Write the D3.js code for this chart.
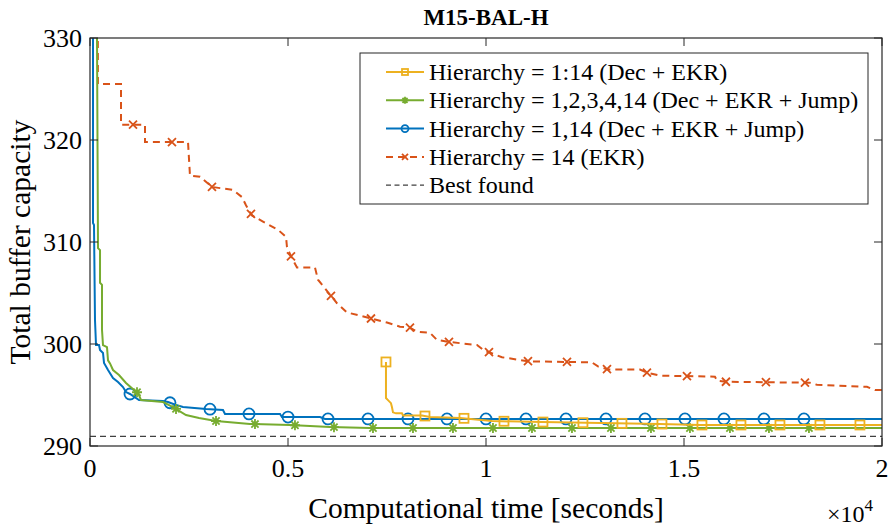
<!DOCTYPE html>
<html lang="en">
<head>
<meta charset="UTF-8">
<title>M15-BAL-H</title>
<script src="https://d3js.org/d3.v7.min.js"></script>
<style>
    body { margin: 0; background: #fff; }
</style>
</head>
<body>
<svg id="canvas" width="893" height="527"></svg>
<script>
// ---- data (time in seconds, total buffer capacity) ----
const decEkr = [[7474, 298.24], [7474, 294.7], [7525, 294.5], [7600, 294.2], [7626, 293.8], [7651, 293.3],
    [7727, 293.2], [7878, 293.2], [7903, 293.0], [8383, 293.0], [8585, 292.84], [9343, 292.75],
    [10151, 292.45], [11413, 292.35], [14393, 292.16], [15403, 292.06], [20000, 292.06]];
const decEkrMarks = [7474, 8459, 9444, 10454, 11438, 12448, 13433, 14443, 15453, 16438, 17423, 18433, 19443];

const decEkrJump4 = [[170, 345], [177, 330], [202, 309.4], [253, 309.2], [253, 306.0], [303, 305.8], [303, 301.4],
    [328, 299.9], [429, 299.7], [455, 298.4], [505, 298.1], [581, 297.45], [732, 296.96], [909, 296.18],
    [1111, 295.49], [1212, 295.2], [1288, 294.51], [1843, 294.31], [2096, 293.82], [2424, 293.04],
    [2752, 292.75], [3182, 292.45], [4040, 292.16], [5050, 292.06], [6060, 291.86], [7070, 291.76], [20000, 291.76]];
const decEkrJump4Marks = [1187, 2172, 3182, 4166, 5176, 6161, 7146, 8156, 9166, 10176, 11161, 12171,
    13155, 14166, 15150, 16160, 17145, 18155];

const decEkrJump = [[60, 345], [76, 330], [76, 311.86], [101, 311.67], [126, 302.35], [152, 299.9], [227, 299.9],
    [253, 299.41], [328, 299.12], [354, 298.14], [455, 297.45], [581, 296.67], [707, 296.27], [833, 295.78],
    [909, 295.29], [1010, 295.1], [1237, 294.51], [1843, 294.41], [1970, 294.31], [2172, 294.02],
    [2348, 293.82], [2929, 293.63], [3358, 293.53], [3409, 293.14], [4798, 293.14], [4848, 292.84],
    [5808, 292.84], [5934, 292.65], [20000, 292.65]];
const decEkrJumpMarks = [1010, 2020, 3030, 4015, 5000, 6010, 7020, 8030, 9015, 10000, 11010, 12020,
    13030, 14015, 15025, 16009, 17019, 18029];

const ekrOnly = [[190, 345], [200, 325.5], [783, 325.5], [783, 321.5], [1389, 321.5], [1389, 319.8],
    [2475, 319.8], [2525, 316.5], [2778, 316.4], [3080, 315.4], [3610, 315.1], [3838, 314.4], [3939, 313.6],
    [4090, 312.6], [4368, 312.0], [4747, 311.2], [4950, 310.5], [4974, 309.5], [5075, 308.6], [5227, 307.5],
    [5681, 307.5], [5757, 306.3], [6110, 304.6], [6237, 304.0], [6489, 303.1], [7095, 302.5], [7499, 302.1],
    [7828, 301.7], [8080, 301.6], [8257, 301.2], [8585, 301.1], [8762, 300.4], [9065, 300.2], [9772, 299.9],
    [9974, 299.3], [10075, 299.2], [10403, 298.7], [11085, 298.3], [12676, 298.2], [12827, 297.8],
    [13080, 297.5], [13888, 297.5], [14064, 297.2], [14393, 296.9], [15781, 296.8], [15832, 296.4],
    [16059, 296.3], [18180, 296.2], [18357, 296.0], [19619, 295.8], [19821, 295.5], [20000, 295.5]];
const ekrOnlyMarks = [1086, 2070, 3080, 4065, 5075, 6085, 7095, 8080, 9065, 10075, 11060, 12045,
    13055, 14064, 15075, 16059, 17069, 18054];

const bestFound = 290.95;

const legendLabels = ["Hierarchy = 1:14 (Dec + EKR)", "Hierarchy = 1,2,3,4,14 (Dec + EKR + Jump)",
    "Hierarchy = 1,14 (Dec + EKR + Jump)", "Hierarchy = 14 (EKR)", "Best found"];
const xTicks = [0, 5000, 10000, 15000, 20000];
const yTicks = [290, 300, 310, 320, 330];

// ---- layout ----
const FONT = "Liberation Serif";
const svg = d3.select("#canvas").style("font-family", FONT);
const box = {left: 90, right: 882, top: 38, bottom: 446};
const x = d3.scaleLinear().domain([0, 20000]).range([box.left, box.right]);
const y = d3.scaleLinear().domain([290, 330]).range([box.bottom, box.top]);
const axisColor = "#262626";

function txt(parent, size) {
    return parent.append("text").style("font-family", FONT).attr("font-size", size).attr("fill", "#000");
}

svg.append("defs").append("clipPath").attr("id", "plotClip")
    .append("rect").attr("x", box.left).attr("y", box.top)
    .attr("width", box.right - box.left).attr("height", box.bottom - box.top);

// value of a polyline at time t (for markers), first point wins on vertical drops
function valueAt(series, t) {
    const i = series.findIndex(d => d[0] >= t);
    if (i === -1) return series[series.length - 1][1];
    if (series[i][0] === t || i === 0) return series[i][1];
    const a = series[i - 1], b = series[i];
    return a[1] + (b[1] - a[1]) * (t - a[0]) / (b[0] - a[0]);
}

const line = d3.line().x(d => x(d[0])).y(d => y(d[1]));

const series = [
    {data: decEkr, marks: decEkrMarks, color: "#EDB120", marker: "square", dash: null},
    {data: decEkrJump4, marks: decEkrJump4Marks, color: "#77AC30", marker: "star", dash: null},
    {data: decEkrJump, marks: decEkrJumpMarks, color: "#0072BD", marker: "circle", dash: null},
    {data: ekrOnly, marks: ekrOnlyMarks, color: "#D95319", marker: "cross", dash: "7,5"}
];

function drawMarker(g, type, cx, cy, s, color) {
    if (type === "square") {
        g.append("rect").attr("x", cx - s).attr("y", cy - s).attr("width", 2 * s).attr("height", 2 * s)
            .attr("fill", "none").attr("stroke", color).attr("stroke-width", 1.8);
    } else if (type === "circle") {
        g.append("circle").attr("cx", cx).attr("cy", cy).attr("r", s)
            .attr("fill", "none").attr("stroke", color).attr("stroke-width", 1.8);
    } else if (type === "cross") {
        g.append("path").attr("d", `M${cx - s},${cy - s}L${cx + s},${cy + s}M${cx - s},${cy + s}L${cx + s},${cy - s}`)
            .attr("stroke", color).attr("stroke-width", 1.8);
    } else if (type === "star") {
        const d = s * 0.72;
        g.append("path").attr("d", `M${cx - s},${cy}L${cx + s},${cy}M${cx},${cy - s}L${cx},${cy + s}` +
            `M${cx - d},${cy - d}L${cx + d},${cy + d}M${cx - d},${cy + d}L${cx + d},${cy - d}`)
            .attr("stroke", color).attr("stroke-width", 1.8);
    }
}

const plot = svg.append("g").attr("clip-path", "url(#plotClip)");

// best found
plot.append("line").attr("x1", box.left).attr("x2", box.right).attr("y1", y(bestFound)).attr("y2", y(bestFound))
    .attr("stroke", "#404040").attr("stroke-width", 1.2).attr("stroke-dasharray", "6,4");

// draw in reverse so yellow sits on top like the reference
[3, 2, 1, 0].forEach(i => {
    const s = series[i];
    plot.append("path").datum(s.data).attr("d", line).attr("fill", "none")
        .attr("stroke", s.color).attr("stroke-width", 2)
        .attr("stroke-dasharray", s.dash);
    const mg = plot.append("g");
    const size = {square: 4.5, circle: 5.5, cross: 4, star: 5}[s.marker];
    s.marks.forEach(t => drawMarker(mg, s.marker, x(t), y(valueAt(s.data, t)), size, s.color));
});

// axes box and ticks
svg.append("rect").attr("x", box.left).attr("y", box.top)
    .attr("width", box.right - box.left).attr("height", box.bottom - box.top)
    .attr("fill", "none").attr("stroke", axisColor).attr("stroke-width", 1.2);

const fmtX = d => d3.format("")(d / 10000);
const tickLen = 8;
xTicks.forEach(t => {
    svg.append("line").attr("x1", x(t)).attr("x2", x(t)).attr("y1", box.bottom).attr("y2", box.bottom - tickLen)
        .attr("stroke", axisColor);
    svg.append("line").attr("x1", x(t)).attr("x2", x(t)).attr("y1", box.top).attr("y2", box.top + tickLen)
        .attr("stroke", axisColor);
    txt(svg, 26).attr("x", x(t)).attr("y", box.bottom + 31).attr("text-anchor", "middle").text(fmtX(t));
});
yTicks.forEach(v => {
    svg.append("line").attr("x1", box.left).attr("x2", box.left + tickLen).attr("y1", y(v)).attr("y2", y(v))
        .attr("stroke", axisColor);
    svg.append("line").attr("x1", box.right).attr("x2", box.right - tickLen).attr("y1", y(v)).attr("y2", y(v))
        .attr("stroke", axisColor);
    txt(svg, 26).attr("x", box.left - 8).attr("y", y(v) + 9).attr("text-anchor", "end").text(v);
});

// labels
txt(svg, 23).attr("x", (box.left + box.right) / 2).attr("y", 25).attr("text-anchor", "middle")
    .attr("font-weight", "bold").text("M15-BAL-H");
txt(svg, 29.5).attr("x", (box.left + box.right) / 2).attr("y", 518).attr("text-anchor", "middle")
    .text("Computational time [seconds]");
txt(svg, 29.5).attr("transform", `translate(30,${(box.top + box.bottom) / 2}) rotate(-90)`)
    .attr("text-anchor", "middle").text("Total buffer capacity");
const mult = txt(svg, 24).attr("x", 827).attr("y", 522);
mult.append("tspan").text("×10");
mult.append("tspan").attr("dy", -11).attr("font-size", 17).text("4");

// legend
const lg = svg.append("g");
lg.append("rect").attr("x", 360).attr("y", 53).attr("width", 508).attr("height", 151)
    .attr("fill", "#fff").attr("stroke", axisColor).attr("stroke-width", 1);
legendLabels.forEach((label, i) => {
    const cy = 72 + i * 28.3;
    const s = series[i];
    if (s) {
        lg.append("line").attr("x1", 386).attr("x2", 424).attr("y1", cy).attr("y2", cy)
            .attr("stroke", s.color).attr("stroke-width", 2).attr("stroke-dasharray", s.dash);
        const size = {square: 3, circle: 3.5, cross: 3, star: 3.5}[s.marker];
        drawMarker(lg, s.marker, 405, cy, size, s.color);
    } else {
        lg.append("line").attr("x1", 386).attr("x2", 424).attr("y1", cy).attr("y2", cy)
            .attr("stroke", "#404040").attr("stroke-width", 1.2).attr("stroke-dasharray", "5,3.5");
    }
    txt(lg, 24).attr("x", 429).attr("y", cy + 8).text(label);
});
</script>
</body>
</html>
